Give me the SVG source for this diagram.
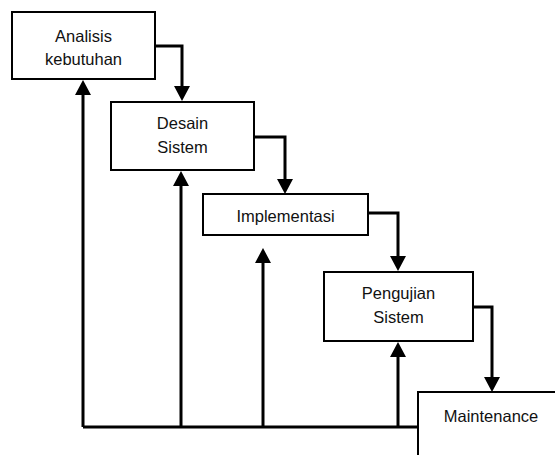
<svg xmlns="http://www.w3.org/2000/svg" width="555" height="455" viewBox="0 0 555 455">
  <style>
    .box { fill: #ffffff; stroke: #000000; stroke-width: 2; }
    .lbl { font-family: "Liberation Sans", Arial, sans-serif; font-size: 16.5px; fill: #111111; text-anchor: middle; }
    .wire { fill: none; stroke: #000000; stroke-width: 3; }
  </style>
  <defs>
    <marker id="ah" markerUnits="userSpaceOnUse" markerWidth="16" markerHeight="16" viewBox="0 0 15 16" refX="10" refY="8" orient="auto">
      <path d="M0,0 L15,8 L0,16 z" fill="#000000"/>
    </marker>
  </defs>

  <rect width="555" height="455" fill="#ffffff"/>

  <!-- connectors: waterfall steps and feedback bus -->
  <g id="connectors">
    <path class="wire" d="M155,46 H182 V96" marker-end="url(#ah)"/>
    <path class="wire" d="M254,137 H285 V189" marker-end="url(#ah)"/>
    <path class="wire" d="M368,213 H398 V266" marker-end="url(#ah)"/>
    <path class="wire" d="M473,307 H492 V387" marker-end="url(#ah)"/>

    <path class="wire" d="M83,427 H418"/>
    <path class="wire" d="M83,427 V85" marker-end="url(#ah)"/>
    <path class="wire" d="M181,427 V176" marker-end="url(#ah)"/>
    <path class="wire" d="M263,427 V253" marker-end="url(#ah)"/>
    <path class="wire" d="M398,427 V347" marker-end="url(#ah)"/>
  </g>

  <g id="analisis">
    <rect class="box" x="12" y="12" width="143" height="67"/>
    <text class="lbl" x="83.5" y="42">Analisis</text>
    <text class="lbl" x="83.5" y="65">kebutuhan</text>
  </g>

  <g id="desain">
    <rect class="box" x="111" y="102" width="143" height="68"/>
    <text class="lbl" x="182.5" y="129">Desain</text>
    <text class="lbl" x="182.5" y="153">Sistem</text>
  </g>

  <g id="implementasi">
    <rect class="box" x="203" y="194" width="165" height="41"/>
    <text class="lbl" x="285.5" y="222">Implementasi</text>
  </g>

  <g id="pengujian">
    <rect class="box" x="324" y="272" width="149" height="69"/>
    <text class="lbl" x="398.5" y="299">Pengujian</text>
    <text class="lbl" x="398.5" y="323">Sistem</text>
  </g>

  <g id="maintenance">
    <rect class="box" x="418" y="392" width="150" height="80"/>
    <text class="lbl" x="491" y="422">Maintenance</text>
  </g>
</svg>
